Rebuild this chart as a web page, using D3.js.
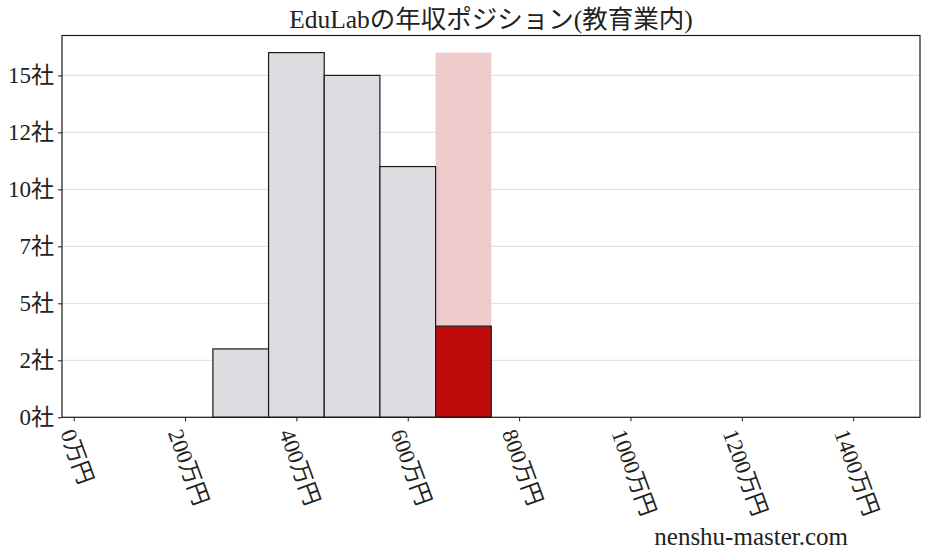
<!DOCTYPE html>
<html><head><meta charset="utf-8">
<script src="https://cdn.jsdelivr.net/npm/d3@7"></script>
<style>
body{margin:0;background:#fff;}
text{font-family:"Liberation Serif","DejaVu Serif","Noto Sans CJK JP",serif;fill:#222;}
</style></head>
<body><svg id="c" width="928" height="557"></svg>
<script>
const title = "EduLabの年収ポジション(教育業内)";
const binStarts = [250, 350, 450, 550, 650];
const binWidth = 100;
const counts = [3, 16, 15, 11, 4];
const highlightIndex = 4;
const xTicks = [0, 200, 400, 600, 800, 1000, 1200, 1400];
const xTickLabels = ["0万円","200万円","400万円","600万円","800万円","1000万円","1200万円","1400万円"];
const yTicks = [0, 2.5, 5, 7.5, 10, 12.5, 15];
const yTickLabels = ["0社","2社","5社","7社","10社","12社","15社"];
const watermark = "nenshu-master.com";

const svg = d3.select("#c");
const L = 62, R = 920, T = 35.5, B = 417.3;
const x = d3.scaleLinear().domain([-21, 1520]).range([L, R]);
const y = d3.scaleLinear().domain([0, 16.75]).range([B, T]);
const FF = '"Liberation Serif","DejaVu Serif","Noto Sans CJK JP",serif';

// grid
svg.append("g").selectAll("line").data(yTicks).join("line")
  .attr("x1", L).attr("x2", R).attr("y1", d => y(d)).attr("y2", d => y(d))
  .attr("stroke", "#dcdcdc").attr("stroke-width", 1);

// highlight background
const maxC = d3.max(counts);
svg.append("rect")
  .attr("x", x(binStarts[highlightIndex])).attr("width", x(binStarts[highlightIndex] + binWidth) - x(binStarts[highlightIndex]))
  .attr("y", y(maxC)).attr("height", y(0) - y(maxC))
  .attr("fill", "#f0cbcb");

// bars
svg.append("g").selectAll("rect").data(counts).join("rect")
  .attr("x", (d, i) => x(binStarts[i]))
  .attr("width", (d, i) => x(binStarts[i] + binWidth) - x(binStarts[i]))
  .attr("y", d => y(d)).attr("height", d => y(0) - y(d))
  .attr("fill", (d, i) => i === highlightIndex ? "#c00b0b" : "#dcdde0")
  .attr("stroke", "#1a1a1a").attr("stroke-width", 1.2);

// frame
svg.append("rect").attr("x", L).attr("y", T).attr("width", R - L).attr("height", B - T)
  .attr("fill", "none").attr("stroke", "#1a1a1a").attr("stroke-width", 1.2);

// y axis
const yAxis = d3.axisLeft(y).tickValues(yTicks).tickSize(4).tickPadding(4)
  .tickFormat((d, i) => yTickLabels[i]);
const gy = svg.append("g").attr("transform", `translate(${L},0)`).call(yAxis);
gy.select(".domain").remove();
gy.selectAll(".tick line").attr("stroke", "#1a1a1a");
gy.selectAll(".tick text").attr("font-size", 23).attr("fill", "#222").style("font-family", FF);

// x axis
const xAxis = d3.axisBottom(x).tickValues(xTicks).tickSize(4).tickFormat((d, i) => xTickLabels[i]);
const gx = svg.append("g").attr("transform", `translate(0,${B})`).call(xAxis);
gx.select(".domain").remove();
gx.selectAll(".tick line").attr("stroke", "#1a1a1a");
const ang = 70, rad = ang * Math.PI / 180, fs = 22.5;
gx.selectAll(".tick text").attr("font-size", fs).attr("fill", "#222").style("font-family", FF)
  .attr("text-anchor", "middle").attr("dy", "0.35em")
  .each(function () {
    const len = this.getComputedTextLength();
    const h = fs * 1.0;
    const H = len * Math.sin(rad) + h * Math.cos(rad);
    const cy = 9 + H / 2;
    d3.select(this).attr("y", 0).attr("x", 0)
      .attr("transform", `translate(3,${cy}) rotate(${ang})`);
  });

// title
svg.append("text").attr("x", (L + R) / 2).attr("y", 28).attr("text-anchor", "middle")
  .attr("font-size", 25.5).text(title);

// watermark
svg.append("text").attr("x", 848).attr("y", 545).attr("text-anchor", "end")
  .attr("font-size", 25).text(watermark);
</script></body></html>
